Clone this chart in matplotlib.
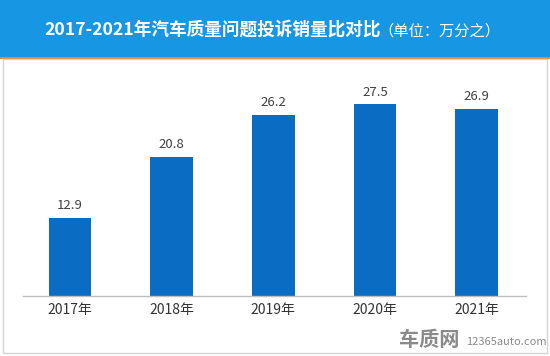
"""Recreate the 2017-2021 complaint/sales ratio bar chart."""

import matplotlib

matplotlib.use("Agg")

import matplotlib.pyplot as plt
import numpy as np
from matplotlib.patches import Rectangle

plt.rcParams["font.family"] = ["Noto Sans CJK SC", "DejaVu Sans"]

years = ["2017年", "2018年", "2019年", "2020年", "2021年"]
ratios = [12.9, 20.8, 26.2, 27.5, 26.9]

TITLE = "2017-2021年汽车质量问题投诉销量比对比"
UNIT = "（单位：万分之）"

BAR_COLOR = "#0a6cc2"
HEADER_COLOR = "#1796e3"
ORANGE = "#e8892a"

fig = plt.figure(figsize=(5.5, 3.56), dpi=100)
fig.patch.set_facecolor("white")

# header band + orange rule + light frame
fig.patches.append(Rectangle((0, 0.840), 1, 0.160, transform=fig.transFigure,
                             facecolor=HEADER_COLOR, edgecolor="none", zorder=0))
fig.patches.append(Rectangle((0, 0.833), 1, 0.008, transform=fig.transFigure,
                             facecolor=ORANGE, edgecolor="none", zorder=0))
fig.patches.append(Rectangle((0.006, 0.008), 0.989, 0.825, transform=fig.transFigure,
                             facecolor="none", edgecolor="#d4d4d4", linewidth=1.0, zorder=0))

fig.text(0.080, 0.918, TITLE, color="white", fontsize=12.7, fontweight="bold",
         ha="left", va="center")
fig.text(0.688, 0.914, UNIT, color="white", fontsize=11, ha="left", va="center")

ax = fig.add_axes([0.042, 0.1685, 0.915, 0.663])
x = np.arange(len(years))
bars = ax.bar(x, ratios, width=0.42, bottom=0, color=BAR_COLOR, zorder=2)
for bar, val in zip(bars, ratios, strict=True):
    ax.text(bar.get_x() + bar.get_width() / 2, val + 0.75, f"{val:.1f}",
            ha="center", va="bottom", fontsize=9.5, color="#404040")

ax.set_xlim(-0.46, 4.49)
ax.set_ylim(2.9, 33.2)
ax.set_xticks(x)
ax.set_xticklabels(years, fontsize=10, color="#333333")
ax.tick_params(axis="x", length=0, pad=5)
ax.set_yticks([])
ax.spines[["top", "right", "left"]].set_visible(False)
ax.spines["bottom"].set_color("#bfbfbf")
ax.spines["bottom"].set_linewidth(1.0)
ax.set_facecolor("none")

# watermark logo
fig.text(0.726, 0.045, "车质网", color="#8a8a8a", fontsize=14.5, fontweight="bold",
         ha="left", va="center")
fig.text(0.847, 0.040, "12365auto.com", color="#8a8a8a", fontsize=8,
         ha="left", va="center")

fig.savefig("out.png", dpi=100)
plt.close(fig)
